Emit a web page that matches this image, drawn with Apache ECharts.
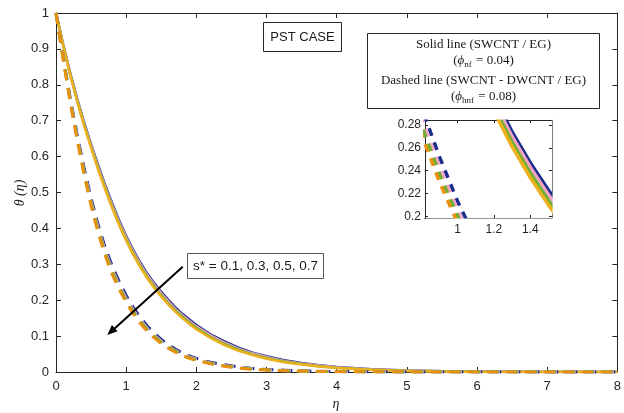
<!DOCTYPE html>
<html>
<head>
<meta charset="utf-8">
<script src="https://cdn.jsdelivr.net/npm/echarts@6/dist/echarts.min.js"></script>
<style>
  html, body { margin: 0; padding: 0; background: #fff; }
  #chart { width: 624px; height: 413px; }
</style>
</head>
<body>
<div id="chart"></div>
<script>
// eta grid (x values)
const eta = [0, 0.1, 0.2, 0.3, 0.4, 0.5, 0.6, 0.7, 0.8, 0.9, 1.0, 1.1, 1.2, 1.3, 1.4, 1.5, 1.6, 1.7, 1.8, 1.9, 2.0,
  2.2, 2.4, 2.6, 2.8, 3.0, 3.25, 3.5, 3.75, 4.0, 4.5, 5, 5.5, 6, 7, 8];

// solid lines: SWCNT / EG, s* = 0.1, 0.3, 0.5, 0.7
const solidS01 = [1.000, 0.914, 0.835, 0.762, 0.695, 0.634, 0.576, 0.521, 0.470, 0.422, 0.379, 0.340, 0.305, 0.274, 0.247, 0.223, 0.201, 0.180, 0.162, 0.146, 0.131,
  0.105, 0.085, 0.068, 0.054, 0.044, 0.033, 0.025, 0.019, 0.014, 0.008, 0.0045, 0.0024, 0.0012, 0.0003, 0];
const solidS03 = [1.000, 0.913, 0.833, 0.760, 0.692, 0.631, 0.572, 0.517, 0.466, 0.418, 0.375, 0.336, 0.301, 0.270, 0.243, 0.219, 0.197, 0.176, 0.158, 0.142, 0.127,
  0.102, 0.082, 0.065, 0.052, 0.042, 0.031, 0.024, 0.018, 0.013, 0.007, 0.004, 0.0021, 0.0011, 0.0002, 0];
const solidS05 = [1.000, 0.912, 0.831, 0.757, 0.689, 0.627, 0.568, 0.513, 0.461, 0.413, 0.370, 0.331, 0.296, 0.265, 0.238, 0.214, 0.192, 0.172, 0.154, 0.138, 0.123,
  0.098, 0.078, 0.062, 0.049, 0.039, 0.029, 0.022, 0.016, 0.012, 0.0065, 0.0035, 0.0018, 0.0009, 0.0002, 0];
const solidS07 = [1.000, 0.911, 0.829, 0.755, 0.686, 0.624, 0.564, 0.509, 0.457, 0.409, 0.366, 0.327, 0.292, 0.261, 0.234, 0.210, 0.188, 0.168, 0.150, 0.134, 0.119,
  0.095, 0.075, 0.059, 0.047, 0.037, 0.027, 0.021, 0.015, 0.011, 0.006, 0.003, 0.0015, 0.0008, 0.0001, 0];

// dashed lines: SWCNT - DWCNT / EG
const dashS01 = [1.000, 0.879, 0.766, 0.663, 0.569, 0.484, 0.410, 0.347, 0.296, 0.252, 0.213, 0.180, 0.152, 0.128, 0.108, 0.091, 0.076, 0.064, 0.053, 0.045, 0.038,
  0.027, 0.020, 0.014, 0.010, 0.007, 0.005, 0.003, 0.002, 0.0013, 0.0006, 0.0002, 0, 0, 0, 0];
const dashS03 = [1.000, 0.877, 0.761, 0.656, 0.561, 0.476, 0.401, 0.338, 0.286, 0.243, 0.205, 0.173, 0.145, 0.122, 0.103, 0.086, 0.072, 0.060, 0.050, 0.042, 0.036,
  0.025, 0.018, 0.013, 0.009, 0.006, 0.004, 0.0027, 0.0018, 0.0012, 0.0005, 0.0002, 0, 0, 0, 0];
const dashS05 = [1.000, 0.875, 0.758, 0.652, 0.556, 0.470, 0.395, 0.332, 0.280, 0.237, 0.200, 0.168, 0.141, 0.118, 0.099, 0.083, 0.069, 0.058, 0.048, 0.040, 0.034,
  0.024, 0.017, 0.012, 0.008, 0.006, 0.004, 0.0025, 0.0017, 0.0011, 0.0005, 0.0002, 0, 0, 0, 0];
const dashS07 = [1.000, 0.873, 0.754, 0.647, 0.550, 0.463, 0.388, 0.325, 0.272, 0.230, 0.194, 0.162, 0.136, 0.113, 0.095, 0.079, 0.066, 0.055, 0.046, 0.038, 0.032,
  0.023, 0.016, 0.011, 0.0075, 0.0055, 0.0036, 0.0022, 0.0015, 0.001, 0.0004, 0.0002, 0, 0, 0, 0];

const solidSets = [solidS01, solidS03, solidS05, solidS07];
const dashSets = [dashS01, dashS03, dashS05, dashS07];
const solidColors = ["#1C2C8C", "#F4A3C4", "#6FB02E", "#EDB120"];
const dashColors = ["#1C2C8C", "#F4A3C4", "#6FB02E", "#E8900F"];

const insetXTicks = [1, 1.2, 1.4];
const insetYTicks = [0.2, 0.22, 0.24, 0.26, 0.28];

const axisColor = "#262626";
const sans = "Liberation Sans";
const serif = "Liberation Serif";

function pairs(vals) {
  return eta.map((x, i) => [x, vals[i]]);
}

function makeSeries(sets, colors, axisIdx, width, dash) {
  return sets.map((vals, k) => ({
    type: "line",
    xAxisIndex: axisIdx,
    yAxisIndex: axisIdx,
    data: pairs(vals),
    showSymbol: false,
    silent: true,
    clip: true,
    lineStyle: { color: colors[k], width: width, type: dash || "solid", cap: "butt" }
  }));
}

const chart = echarts.init(document.getElementById("chart"), null, { renderer: "canvas" });

const tickLine = { onZero: false, lineStyle: { color: axisColor, width: 1 } };

// white strips hiding the few pixels the clipped inset lines spill over the inset frame
const mask = (x, y, w, h) => ({
  type: "rect", z: 90, silent: true,
  shape: { x: x, y: y, width: w, height: h },
  style: { fill: "#fff" }
});

const option = {
  animation: false,
  backgroundColor: "#fff",
  grid: [
    { left: 56, right: 2, top: 13, bottom: 41, show: false },
    { left: 425, top: 120, width: 127, height: 98, show: false }
  ],
  xAxis: [
    {
      type: "value", gridIndex: 0, min: 0, max: 8, interval: 1,
      axisLine: tickLine, splitLine: { show: false },
      axisTick: { inside: true, length: 5, lineStyle: { color: axisColor } },
      axisLabel: { color: axisColor, fontFamily: sans, fontSize: 13, margin: 8 }
    },
    {
      type: "value", gridIndex: 0, min: 0, max: 8, interval: 1, position: "top",
      axisLine: tickLine, splitLine: { show: false },
      axisTick: { inside: true, length: 5, lineStyle: { color: axisColor } },
      axisLabel: { show: false }
    },
    {
      type: "value", gridIndex: 1, min: 0.82, max: 1.52, position: "bottom",
      axisLine: tickLine, splitLine: { show: false },
      axisTick: { inside: true, length: 3, customValues: insetXTicks, lineStyle: { color: axisColor } },
      axisLabel: { color: axisColor, fontFamily: sans, fontSize: 12, margin: 6, customValues: insetXTicks }
    },
    {
      type: "value", gridIndex: 1, min: 0.82, max: 1.52, position: "top",
      axisLine: tickLine, splitLine: { show: false },
      axisTick: { inside: true, length: 3, customValues: insetXTicks, lineStyle: { color: axisColor } },
      axisLabel: { show: false }
    }
  ],
  yAxis: [
    {
      type: "value", gridIndex: 0, min: 0, max: 1, interval: 0.1,
      axisLine: { show: true, onZero: false, lineStyle: { color: axisColor, width: 1 } }, splitLine: { show: false },
      axisTick: { show: true, inside: true, length: 5, lineStyle: { color: axisColor } },
      axisLabel: { color: axisColor, fontFamily: sans, fontSize: 13, margin: 7 }
    },
    {
      type: "value", gridIndex: 0, min: 0, max: 1, interval: 0.1, position: "right",
      axisLine: { show: true, onZero: false, lineStyle: { color: axisColor, width: 1 } }, splitLine: { show: false },
      axisTick: { show: true, inside: true, length: 5, lineStyle: { color: axisColor } },
      axisLabel: { show: false }
    },
    {
      type: "value", gridIndex: 1, min: 0.1985, max: 0.2844, position: "left",
      axisLine: { show: true, onZero: false, lineStyle: { color: axisColor, width: 1 } }, splitLine: { show: false },
      axisTick: { show: true, inside: true, length: 3, customValues: insetYTicks, lineStyle: { color: axisColor } },
      axisLabel: { color: axisColor, fontFamily: sans, fontSize: 12, margin: 4, customValues: insetYTicks }
    },
    {
      type: "value", gridIndex: 1, min: 0.1985, max: 0.2844, position: "right",
      axisLine: { show: true, onZero: false, lineStyle: { color: axisColor, width: 1 } }, splitLine: { show: false },
      axisTick: { show: true, inside: true, length: 3, customValues: insetYTicks, lineStyle: { color: axisColor } },
      axisLabel: { show: false }
    }
  ],
  series: [].concat(
    makeSeries(solidSets, solidColors, 0, 2.5),
    makeSeries(dashSets, dashColors, 0, 3, [11, 8]),
    makeSeries(solidSets, solidColors, 2, 3.5),
    makeSeries(dashSets, dashColors, 2, 3.5, [8, 7])
  ),
  graphic: [
    mask(552.6, 112, 8, 110),
    mask(420, 112, 140, 7.4),
    mask(426, 218.6, 130, 4),
    // PST CASE label
    {
      type: "rect", z: 100,
      shape: { x: 263.5, y: 22.5, width: 78, height: 29 },
      style: { fill: "#fff", stroke: axisColor, lineWidth: 1 }
    },
    {
      type: "text", z: 101, x: 302.5, y: 37,
      style: { text: "PST CASE", font: "13px " + sans, fill: "#1a1a1a", align: "center", verticalAlign: "middle" }
    },
    // legend box
    {
      type: "rect", z: 100,
      shape: { x: 367.5, y: 33.5, width: 232, height: 75 },
      style: { fill: "#fff", stroke: axisColor, lineWidth: 1 }
    },
    {
      type: "text", z: 101, x: 483.5, y: 45,
      style: { text: "Solid line (SWCNT / EG)", font: "13px " + serif, fill: "#1a1a1a", align: "center", verticalAlign: "middle" }
    },
    {
      type: "text", z: 101, x: 483.5, y: 61,
      style: {
        text: "({phi|ϕ}{sub|nf} = 0.04)", font: "13px " + serif, fill: "#1a1a1a", align: "center", verticalAlign: "middle",
        rich: {
          phi: { fontFamily: serif, fontSize: 13, fontStyle: "italic", fill: "#1a1a1a" },
          sub: { fontFamily: serif, fontSize: 9, padding: [8, 1, 0, 0], fill: "#1a1a1a" }
        }
      }
    },
    {
      type: "text", z: 101, x: 483.5, y: 81,
      style: { text: "Dashed line (SWCNT - DWCNT / EG)", font: "13px " + serif, fill: "#1a1a1a", align: "center", verticalAlign: "middle" }
    },
    {
      type: "text", z: 101, x: 483.5, y: 97,
      style: {
        text: "({phi|ϕ}{sub|hnf} = 0.08)", font: "13px " + serif, fill: "#1a1a1a", align: "center", verticalAlign: "middle",
        rich: {
          phi: { fontFamily: serif, fontSize: 13, fontStyle: "italic", fill: "#1a1a1a" },
          sub: { fontFamily: serif, fontSize: 9, padding: [8, 1, 0, 0], fill: "#1a1a1a" }
        }
      }
    },
    // s* annotation
    {
      type: "rect", z: 100,
      shape: { x: 187.5, y: 253.5, width: 136, height: 25 },
      style: { fill: "#fff", stroke: "#555", lineWidth: 1 }
    },
    {
      type: "text", z: 101, x: 255.5, y: 266,
      style: { text: "s* = 0.1, 0.3, 0.5, 0.7", font: "13.5px " + sans, fill: "#1a1a1a", align: "center", verticalAlign: "middle" }
    },
    // arrow
    {
      type: "line", z: 100,
      shape: { x1: 182.7, y1: 266.7, x2: 113.5, y2: 329.4 },
      style: { stroke: "#000", lineWidth: 2 }
    },
    {
      type: "polygon", z: 100,
      shape: { points: [[107.3, 335], [117.6, 331.3], [111.9, 325.1]] },
      style: { fill: "#000" }
    },
    // axis titles
    {
      type: "text", z: 101, x: 20, y: 193, rotation: Math.PI / 2,
      style: { text: "θ (η)", font: "italic 14px " + serif, fill: axisColor, align: "center", verticalAlign: "middle" }
    },
    {
      type: "text", z: 101, x: 336, y: 404,
      style: { text: "η", font: "italic 14px " + serif, fill: axisColor, align: "center", verticalAlign: "middle" }
    }
  ]
};

chart.setOption(option);
</script>
</body>
</html>
